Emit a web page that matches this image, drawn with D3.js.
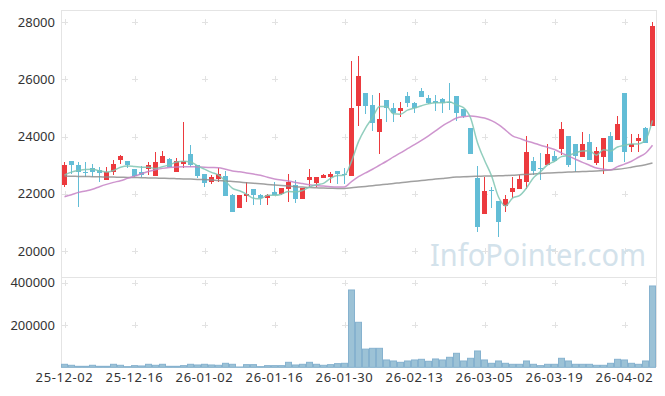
<!DOCTYPE html>
<html><head><meta charset="utf-8">
<script src="https://cdn.jsdelivr.net/npm/d3@7/dist/d3.min.js"></script>
<style>body{margin:0;background:#fff;}svg{display:block;}text{font-family:"Noto Sans",sans-serif;}</style>
</head><body><svg id="c" width="665" height="396"></svg>
<script>
const dates = ["25-12-02","25-12-03","25-12-04","25-12-05","25-12-08","25-12-09","25-12-10","25-12-11","25-12-12","25-12-15",
"25-12-16","25-12-17","25-12-18","25-12-19","25-12-22","25-12-23","25-12-24","25-12-26","25-12-29","25-12-30",
"26-01-02","26-01-05","26-01-06","26-01-07","26-01-08","26-01-09","26-01-12","26-01-13","26-01-14","26-01-15",
"26-01-16","26-01-19","26-01-20","26-01-21","26-01-22","26-01-23","26-01-26","26-01-27","26-01-28","26-01-29",
"26-01-30","26-02-02","26-02-03","26-02-04","26-02-05","26-02-06","26-02-09","26-02-10","26-02-11","26-02-12",
"26-02-13","26-02-19","26-02-20","26-02-23","26-02-24","26-02-25","26-02-26","26-02-27","26-03-03","26-03-04",
"26-03-05","26-03-06","26-03-09","26-03-10","26-03-11","26-03-12","26-03-13","26-03-16","26-03-17","26-03-18",
"26-03-19","26-03-20","26-03-23","26-03-24","26-03-25","26-03-26","26-03-27","26-03-30","26-03-31","26-04-01",
"26-04-02","26-04-03","26-04-06","26-04-07","26-04-08"];
const open = [22300,23150,23000,22780,22890,22830,22480,22780,23180,23150,
22870,22780,22860,22630,23090,23220,22750,23030,23390,23010,
22690,22420,22520,22630,21960,21490,21920,22160,21960,21870,
22050,21980,22160,22310,21820,22480,22390,22570,22580,22800,
22690,22630,25070,25520,25110,24170,25290,24990,24880,25420,
25170,25600,25340,25250,25320,25220,25420,24960,24290,22560,
21280,22150,21750,21590,22070,22170,22420,23150,22900,23010,
23320,23560,24020,23740,23300,23820,23090,23300,24020,23880,
25540,23650,23850,24290,24380];
const high = [23100,23150,23100,23100,23030,22950,22950,23200,23350,23150,
22870,22970,23120,23450,23500,23250,23240,24500,23710,23010,
22690,22660,22890,22800,22000,21960,22420,22160,21980,21980,
22420,22190,22690,22480,22190,22860,22580,22700,22780,22810,
22890,26660,26820,25520,25460,25520,25290,25170,25220,25570,
25220,25690,25450,25450,25350,25890,25420,24960,24290,22970,
22580,22250,21750,21960,22580,22660,24020,23300,23440,23740,
23500,24500,24020,23740,24170,24090,23650,23960,24170,24720,
25540,24090,24090,24350,28000];
const low = [22250,22700,21530,22580,22600,22420,22480,22660,23030,22890,
22580,22600,22660,22630,23090,22950,22750,22920,22950,22540,
22230,22330,22420,21930,21370,21490,21720,21610,21610,21610,
21960,21950,21720,21670,21820,22230,22230,22570,22390,22340,
22340,22630,24370,24780,24200,23380,24520,24520,24700,25050,
24820,25400,25150,24900,24820,24930,24550,24650,23380,20680,
21280,21490,20500,21380,21840,22170,22170,22660,22480,23010,
23100,23360,22950,22780,23300,23180,23000,22690,23120,23880,
23120,23470,23470,23790,24380];
const close = [23000,23000,22750,22750,22780,22740,22780,23030,23320,23010,
22640,22660,23010,23120,23320,22950,23150,23150,23010,22620,
22390,22580,22690,21930,21370,21960,21990,21960,21870,21960,
21960,22190,22420,21820,22190,22580,22580,22660,22690,22680,
22650,24990,26120,25070,24490,24620,24990,24840,24990,25190,
24990,25400,25190,25170,25170,25180,24840,24720,23380,20830,
22100,22130,21000,21820,22210,22520,23470,22800,22880,23390,
23160,24270,23010,23330,23740,23180,23500,23960,23120,24440,
23470,23740,23960,23790,27880];
const volume = [14200,9500,4700,4700,9500,4700,4700,14200,9500,3200,
7900,6300,14200,9500,14200,4700,4700,7900,14200,11000,
14200,11000,9500,18900,14200,1500,12600,12600,3200,7900,
7900,7900,23600,11000,14200,23600,14200,9500,12600,17300,
18900,365600,212800,86000,89800,89800,34700,29900,23600,29900,
34700,37800,28400,39400,34700,47300,66200,29900,42600,77200,
34700,18900,29900,18900,14200,14200,29900,14200,7900,14200,
14200,42600,29900,14200,14200,14200,9500,9500,18900,37800,
34700,18900,14200,29900,384500];
const ma5 = [22660,22760,22815,22850,22856,22804,22760,22816,22930,22976,
22956,22932,22928,22888,22950,23012,23110,23138,23116,22976,
22864,22750,22658,22442,22192,22106,21988,21842,21830,21948,
21948,21988,22080,22070,22116,22240,22318,22366,22540,22638,
22652,23134,23826,24302,24664,25058,25058,24802,24786,24926,
25000,25082,25152,25188,25184,25222,25110,25016,24658,23790,
23174,22632,21888,21576,21852,21936,22204,22564,22776,23012,
23140,23300,23342,23432,23502,23506,23352,23542,23500,23640,
23698,23746,23746,23880,24568];
const ma20 = [21900,21970,22050,22100,22160,22250,22330,22400,22460,22540,
22620,22700,22780,22840,22890,22920,22940,22950,22950,22940,
22930,22920,22910,22860,22800,22770,22730,22690,22650,22580,
22520,22480,22450,22400,22360,22320,22290,22270,22250,22240,
22240,22430,22600,22730,22860,23000,23140,23290,23430,23580,
23720,23870,24030,24200,24380,24520,24650,24700,24720,24700,
24650,24560,24420,24230,24030,23940,23850,23780,23700,23630,
23550,23430,23320,23210,23100,23000,22900,22860,22840,22950,
23040,23140,23280,23420,23700];
const ma60 = [22620,22615,22610,22605,22600,22595,22590,22585,22580,22575,
22570,22565,22555,22550,22545,22540,22530,22520,22515,22505,
22500,22485,22465,22450,22430,22410,22390,22370,22350,22330,
22310,22290,22270,22250,22235,22220,22210,22200,22195,22190,
22190,22210,22235,22260,22285,22310,22335,22360,22390,22415,
22440,22465,22490,22515,22540,22565,22585,22600,22610,22615,
22620,22625,22630,22640,22650,22665,22680,22695,22710,22725,
22740,22750,22760,22770,22780,22790,22800,22815,22835,22860,
22890,22930,22970,23020,23080];
const tickDates = ["25-12-02","25-12-16","26-01-02","26-01-16","26-01-30","26-02-13","26-03-05","26-03-19","26-04-02"];
const priceTicks = [20000,22000,24000,26000,28000];
const volumeTicks = [200000,400000];

const svg = d3.select("#c");
const L = 61, R = 656, PT = 10, PB = 277.5, VB = 367.3;
const x = d3.scaleBand().domain(dates).range([L, R]).padding(0);
const cx = d => x(d) + x.bandwidth() / 2;
const y = d3.scaleLinear().domain([20000, 28000]).range([251, 22.3]);
const yv = d3.scaleLinear().domain([0, 400000]).range([VB, 282.7]);

const RED = "#ec3a3e", BLUE = "#63bdd6", FRAME = "#e4e4e4";

svg.append("rect").attr("width", 665).attr("height", 396).attr("fill", "#fff");

// frame
const fr = svg.append("g").attr("stroke", FRAME).attr("fill", "none").attr("shape-rendering", "crispEdges");
fr.append("line").attr("x1", L + 0.5).attr("x2", L + 0.5).attr("y1", PT).attr("y2", VB);
fr.append("line").attr("x1", R + 0.5).attr("x2", R + 0.5).attr("y1", PT).attr("y2", VB);
fr.append("line").attr("x1", L).attr("x2", R).attr("y1", PT + 0.5).attr("y2", PT + 0.5);
fr.append("line").attr("x1", L).attr("x2", R).attr("y1", PB).attr("y2", PB);
fr.append("line").attr("x1", L).attr("x2", R).attr("y1", VB + 0.5).attr("y2", VB + 0.5);

// plus marks
const plus = svg.append("g").attr("stroke", "#e2e2e2").attr("stroke-width", 1).attr("shape-rendering", "crispEdges");
function addPlus(px, py) {
  plus.append("line").attr("x1", px - 3).attr("x2", px + 3).attr("y1", Math.round(py) + 0.5).attr("y2", Math.round(py) + 0.5);
  plus.append("line").attr("x1", Math.round(px) + 0.5).attr("x2", Math.round(px) + 0.5).attr("y1", py - 3).attr("y2", py + 3);
}
tickDates.forEach(d => {
  priceTicks.forEach(p => addPlus(cx(d), y(p)));
  volumeTicks.forEach(v => addPlus(cx(d), yv(v)));
});

// watermark
svg.append("text").attr("x", 430).attr("y", 265.5).attr("font-size", 31).attr("fill", "#d3e2eb")
  .attr("textLength", 216).attr("lengthAdjust", "spacingAndGlyphs").text("InfoPointer.com");

// clip
svg.append("clipPath").attr("id", "pc").append("rect").attr("x", L).attr("y", PT).attr("width", R - L).attr("height", PB - PT);
const pg = svg.append("g").attr("clip-path", "url(#pc)");

const idx = d3.range(dates.length);
// candles
const cg = pg.append("g").attr("shape-rendering", "crispEdges");
cg.selectAll("line.w").data(idx).join("line")
  .attr("x1", i => Math.floor(cx(dates[i])) + 0.5).attr("x2", i => Math.floor(cx(dates[i])) + 0.5)
  .attr("y1", i => y(high[i])).attr("y2", i => y(low[i]))
  .attr("stroke", i => close[i] >= open[i] ? RED : BLUE).attr("stroke-width", 1);
cg.selectAll("rect.b").data(idx).join("rect")
  .attr("x", i => Math.floor(cx(dates[i])) - 2)
  .attr("width", 5)
  .attr("y", i => y(Math.max(open[i], close[i])))
  .attr("height", i => Math.max(1, Math.abs(y(open[i]) - y(close[i]))))
  .attr("fill", i => close[i] >= open[i] ? RED : BLUE);

// moving averages
const mk = arr => d3.line().x((v, i) => cx(dates[i])).y(v => y(v)).curve(d3.curveMonotoneX)(arr);
pg.append("path").attr("d", mk(ma60)).attr("fill", "none").attr("stroke", "#8f8f8f").attr("stroke-width", 1.5).attr("opacity", 0.85);
pg.append("path").attr("d", mk(ma20)).attr("fill", "none").attr("stroke", "#c683c6").attr("stroke-width", 1.5).attr("opacity", 0.85);
pg.append("path").attr("d", mk(ma5)).attr("fill", "none").attr("stroke", "#7fc5b3").attr("stroke-width", 1.5).attr("opacity", 0.85);

// volume
svg.append("g").selectAll("rect").data(idx).join("rect")
  .attr("x", i => x(dates[i]) + 0.5).attr("width", x.bandwidth() - 1)
  .attr("y", i => yv(volume[i])).attr("height", i => VB - yv(volume[i]))
  .attr("fill", "#9cc2d6").attr("stroke", "#86b2cf").attr("stroke-width", 1);

// axes labels
const yAx = d3.axisLeft(y).tickValues(priceTicks).tickSize(0).tickPadding(6).tickFormat(d3.format("d"));
const ga = svg.append("g").attr("transform", `translate(${L},0)`).call(yAx);
const vAx = d3.axisLeft(yv).tickValues(volumeTicks).tickSize(0).tickPadding(6).tickFormat(d3.format("d"));
const gv = svg.append("g").attr("transform", `translate(${L},0)`).call(vAx);
const xAx = d3.axisBottom(x).tickValues(tickDates).tickSize(0).tickPadding(5);
const gx = svg.append("g").attr("transform", `translate(0,${VB})`).call(xAx);
[ga, gv, gx].forEach(g => {
  g.select(".domain").remove();
  g.selectAll("text").attr("font-family", "'Noto Sans', sans-serif").attr("font-size", 13).attr("fill", "#333");
});
gx.selectAll("text").attr("letter-spacing", "0.6px");
</script></body></html>
